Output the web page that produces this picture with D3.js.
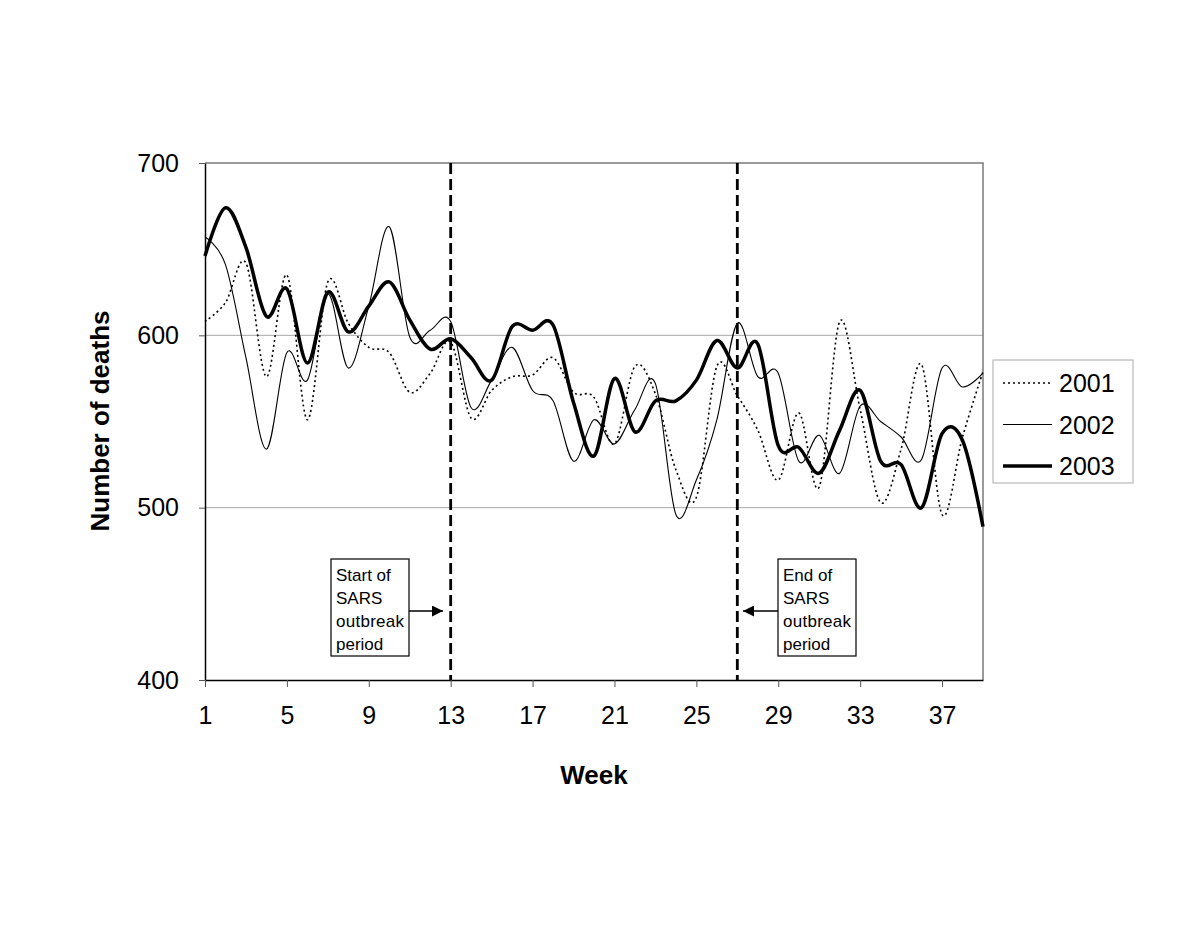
<!DOCTYPE html>
<html>
<head>
<meta charset="utf-8">
<script src="https://cdn.jsdelivr.net/npm/d3@7"></script>
<style>
  body { margin: 0; background: #fff; }
  text { font-family: "Liberation Sans", Arial, sans-serif; }
</style>
</head>
<body>
<div id="svgContainer"></div>
<script>
// Weekly number of deaths, weeks 1..39
const weeks = d3.range(1, 40);
const deaths2001 = [608, 619, 642, 576, 635, 551, 631, 607, 593, 590, 567, 578, 596,
  552, 568, 576, 577, 587, 567, 564, 537, 582, 566, 522, 506, 582,
  565, 545, 516, 555, 512, 608, 557, 503, 534, 583, 496, 541, 579];
const deaths2002 = [657, 641, 587, 534, 590, 574, 624, 581, 617, 663, 599, 603, 608,
  558, 574, 593, 568, 562, 527, 551, 537, 557, 572, 496, 516, 551,
  607, 576, 578, 527, 542, 520, 559, 550, 541, 528, 581, 570, 578];
const deaths2003 = [646, 674, 651, 611, 627, 584, 625, 602, 617, 631, 609, 592, 598,
  587, 574, 605, 603, 606, 561, 530, 575, 544, 562, 562, 574, 597,
  581, 595, 536, 535, 520, 545, 568, 527, 525, 500, 543, 539, 489];
const seriesNames = ["2001", "2002", "2003"];
const xTicks = [1, 5, 9, 13, 17, 21, 25, 29, 33, 37];
const yTicks = [400, 500, 600, 700];
const sarsStart = 13;
const sarsEnd = 27;

const width = 1200;
const height = 927;

const svg = d3.select("#svgContainer").append("svg")
  .attr("width", width)
  .attr("height", height);
svg.append("rect").attr("width", width).attr("height", height).attr("fill", "#fff");

const x = d3.scaleLinear().domain([1, 39]).range([205, 983]);
const y = d3.scaleLinear().domain([400, 700]).range([680, 163]);

// Grid lines
svg.append("g")
  .selectAll("line")
  .data([500, 600])
  .join("line")
  .attr("x1", x(1)).attr("x2", x(39))
  .attr("y1", d => y(d)).attr("y2", d => y(d))
  .attr("stroke", "#a8a8a8")
  .attr("stroke-width", 1);

// Plot frame (top and right)
svg.append("path")
  .attr("d", `M${x(1)},${y(700)}H${x(39)}V${y(400)}`)
  .attr("fill", "none")
  .attr("stroke", "#7a7a7a")
  .attr("stroke-width", 1.5);

// Axes
const yAxis = svg.append("g")
  .attr("transform", `translate(${x(1)},0)`)
  .call(d3.axisLeft(y).tickValues(yTicks).tickSize(6).tickSizeOuter(0).tickPadding(20));
const xAxis = svg.append("g")
  .attr("transform", `translate(0,${y(400)})`)
  .call(d3.axisBottom(x).tickValues(xTicks).tickSize(7).tickSizeOuter(0).tickPadding(28));
[yAxis, xAxis].forEach(g => {
  g.select(".domain").attr("stroke", "#000").attr("stroke-width", 1.5);
  g.selectAll(".tick line").attr("stroke", "#555");
  g.selectAll(".tick text")
    .attr("font-family", "Liberation Sans, Arial, sans-serif")
    .attr("font-size", "25px")
    .attr("fill", "#000");
});
xAxis.selectAll(".tick text").attr("dy", "0.35em");

// Axis titles
svg.append("text")
  .attr("x", 594).attr("y", 784)
  .attr("text-anchor", "middle")
  .attr("font-size", "26px")
  .attr("font-weight", "bold")
  .text("Week");
svg.append("text")
  .attr("transform", "translate(109,421) rotate(-90)")
  .attr("text-anchor", "middle")
  .attr("font-size", "26px")
  .attr("font-weight", "bold")
  .text("Number of deaths");

// SARS period markers
svg.append("g")
  .selectAll("line")
  .data([sarsStart, sarsEnd])
  .join("line")
  .attr("x1", d => x(d)).attr("x2", d => x(d))
  .attr("y1", y(700)).attr("y2", y(400))
  .attr("stroke", "#000")
  .attr("stroke-width", 2.8)
  .attr("stroke-dasharray", "11,5");

// Series lines
const line = d3.line()
  .x((d, i) => x(weeks[i]))
  .y(d => y(d))
  .curve(d3.curveCardinal.tension(0));

const styles = [
  { data: deaths2001, w: 1.6, dash: "2,3" },
  { data: deaths2002, w: 1.1, dash: null },
  { data: deaths2003, w: 3.5, dash: null }
];
styles.forEach(s => {
  svg.append("path")
    .attr("d", line(s.data))
    .attr("fill", "none")
    .attr("stroke", "#000")
    .attr("stroke-width", s.w)
    .attr("stroke-dasharray", s.dash)
    .attr("stroke-linejoin", "round");
});

// Legend
const legend = svg.append("g");
legend.append("rect")
  .attr("x", 993).attr("y", 360)
  .attr("width", 140).attr("height", 123)
  .attr("fill", "#fff")
  .attr("stroke", "#aaa")
  .attr("stroke-width", 1);
seriesNames.forEach((name, i) => {
  const ly = 383 + i * 41.5;
  legend.append("line")
    .attr("x1", 1003).attr("x2", 1052)
    .attr("y1", ly).attr("y2", ly)
    .attr("stroke", "#000")
    .attr("stroke-width", styles[i].w)
    .attr("stroke-dasharray", styles[i].dash);
  legend.append("text")
    .attr("x", 1059).attr("y", ly + 9)
    .attr("font-size", "25px")
    .text(name);
});

// Annotation boxes with arrows
svg.append("defs").append("marker")
  .attr("id", "arrow")
  .attr("viewBox", "0 0 10 10")
  .attr("refX", 10).attr("refY", 5)
  .attr("markerUnits", "userSpaceOnUse")
  .attr("markerWidth", 13).attr("markerHeight", 11)
  .attr("orient", "auto")
  .append("path")
  .attr("d", "M0,0L10,5L0,10Z")
  .attr("fill", "#000");

const notes = [
  { lines: ["Start of", "SARS", "outbreak", "period"], bx: 331, ax1: 409, ax2: 443 },
  { lines: ["End of", "SARS", "outbreak", "period"], bx: 778, ax1: 778, ax2: 743 }
];
notes.forEach(n => {
  svg.append("rect")
    .attr("x", n.bx).attr("y", 559)
    .attr("width", 78).attr("height", 97)
    .attr("fill", "#fff")
    .attr("stroke", "#000")
    .attr("stroke-width", 1.2);
  n.lines.forEach((t, i) => {
    svg.append("text")
      .attr("x", n.bx + 5).attr("y", 581 + i * 23)
      .attr("font-size", "17px")
      .attr("textLength", t === "outbreak" ? 68 : null)
      .text(t);
  });
  svg.append("line")
    .attr("x1", n.ax1).attr("x2", n.ax2)
    .attr("y1", 611).attr("y2", 611)
    .attr("stroke", "#000")
    .attr("stroke-width", 1.5)
    .attr("marker-end", "url(#arrow)");
});
</script>
</body>
</html>
